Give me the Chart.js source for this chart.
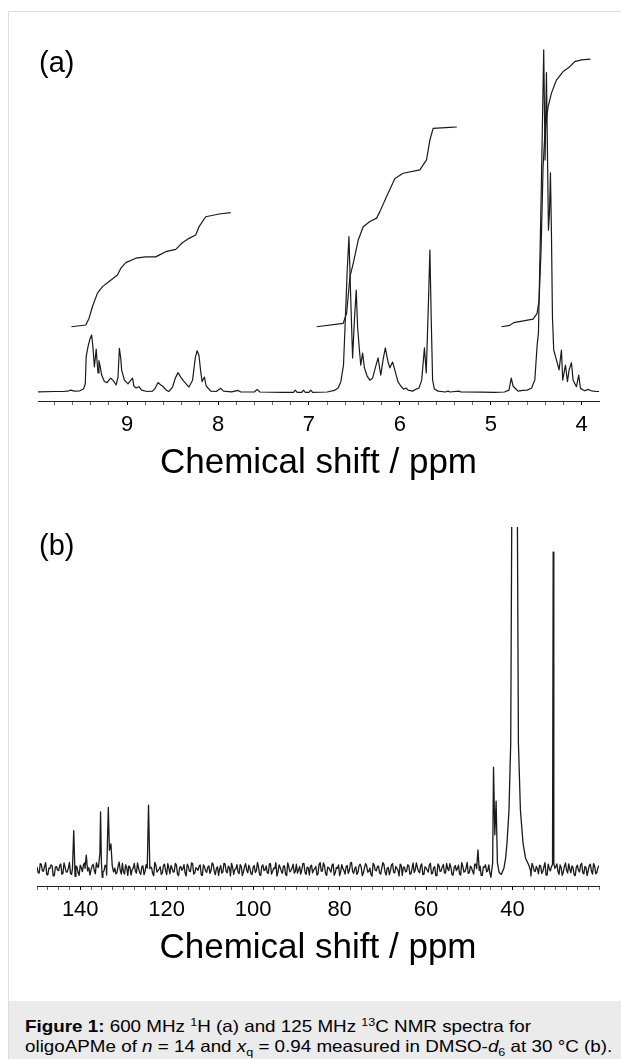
<!DOCTYPE html>
<html>
<head>
<meta charset="utf-8">
<script src="https://cdn.jsdelivr.net/npm/chart.js@4.4.1/dist/chart.umd.min.js"></script>
<style>
  html, body { margin: 0; padding: 0; background: #fff; }
  body { width: 621px; height: 1059px; position: relative; overflow: hidden; font-family: "Liberation Sans", Arial, sans-serif; }
  #frame { position: absolute; left: 8px; top: 11px; width: 700px; height: 1100px; border-left: 1px solid #dcdcdc; border-top: 1px solid #dcdcdc; }
  canvas { position: absolute; left: 0; }
  #cA { top: 0; }
  #cB { top: 490px; }
  .lbl { position: absolute; left: 39px; font-size: 29px; line-height: 29px; color: #000; }
  #caption { position: absolute; left: 9px; top: 1001px; right: 0; bottom: 0; background: #ebebeb; padding: 14.5px 0 0 16px; font-size: 16.5px; line-height: 20px; color: #000; white-space: nowrap; }
  #caption span { display: inline-block; transform: scaleX(1.14); transform-origin: 0 0; }
  sup, sub { font-size: 11px; line-height: 0; }
</style>
</head>
<body>
<div id="frame"></div>
<canvas id="cA" width="621" height="490"></canvas>
<canvas id="cB" width="621" height="500"></canvas>
<div class="lbl" style="top:47.5px">(a)</div>
<div class="lbl" style="top:530.5px">(b)</div>
<div id="caption"><span><b>Figure 1:</b> 600 MHz <sup>1</sup>H (a) and 125 MHz <sup>13</sup>C NMR spectra for<br>oligoAPMe of <i>n</i> = 14 and <i>x</i><sub>q</sub> = 0.94 measured in DMSO-<i>d</i><sub>6</sub> at 30 °C (b).</span></div>
<script>
// --- (a) 1H spectrum: [ppm, intensity] (tallest peak = 100) ---
const specH = [
  [9.98,0.2],[9.80,0.3],[9.70,0.3],[9.64,0.5],[9.62,0.7],[9.58,0.4],[9.52,0.5],[9.48,1.0],[9.46,2.5],[9.45,10.5],
  [9.43,13.4],[9.41,15.5],[9.39,16.8],[9.375,13],[9.36,7.5],[9.35,10],[9.34,12.7],[9.33,9],[9.32,5.7],[9.31,9.3],
  [9.295,7.5],[9.28,5.1],[9.25,3.2],[9.22,2.9],[9.20,3.6],[9.18,4.2],[9.15,3.4],[9.12,2.2],[9.10,4.5],[9.085,12.9],
  [9.07,10],[9.06,6.6],[9.03,3.6],[8.99,2.5],[8.965,3.4],[8.94,4.2],[8.925,1.8],[8.90,1.3],[8.87,1.7],[8.84,0.7],
  [8.78,0.3],[8.72,0.4],[8.69,1.3],[8.66,2.9],[8.63,2.2],[8.61,1.9],[8.57,0.7],[8.54,0.3],[8.50,1.6],[8.47,4.2],
  [8.44,5.8],[8.41,4.5],[8.38,3.4],[8.36,2.8],[8.32,1.6],[8.28,3.6],[8.25,10.1],[8.23,12.2],[8.21,10.9],[8.19,6],
  [8.175,3.2],[8.15,4.5],[8.13,1.9],[8.08,0.4],[8.02,0.3],[7.99,0.9],[7.97,1.2],[7.94,0.4],[7.85,0.2],[7.78,0.6],
  [7.75,0.15],[7.60,0.15],[7.57,0.9],[7.54,0.15],[7.30,0.05],[7.17,0.05],[7.15,0.7],[7.13,0.05],[7.08,0.05],[7.06,0.7],
  [7.04,0.05],[7.00,0.05],[6.98,0.7],[6.96,0.05],[6.80,0.15],[6.72,0.6],[6.68,1.3],[6.65,3.1],[6.62,8.0],[6.60,21.2],
  [6.58,35.2],[6.56,45.5],[6.545,31.4],[6.52,10.1],[6.50,21.2],[6.48,29.9],[6.465,19.1],[6.445,12.4],[6.43,8.0],[6.41,11.5],
  [6.39,7.2],[6.36,4.8],[6.33,3.6],[6.30,4.2],[6.27,7.2],[6.24,10.1],[6.21,5.1],[6.185,9.5],[6.16,13.0],[6.13,8.9],
  [6.11,7.2],[6.08,8.9],[6.05,6.0],[6.02,3.1],[5.99,1.9],[5.96,1.0],[5.93,1.3],[5.91,0.7],[5.86,0.4],[5.82,1.0],
  [5.79,1.3],[5.76,3.6],[5.73,13.0],[5.71,5.7],[5.685,27.0],[5.67,41.6],[5.655,21.2],[5.64,3.6],[5.62,1.0],[5.58,0.4],
  [5.50,0.15],[5.47,0.4],[5.45,0.15],[5.35,0.4],[5.33,0.15],[5.10,0.1],[4.96,0.05],[4.85,0.15],[4.80,0.7],[4.775,4.2],
  [4.755,1.9],[4.735,1.3],[4.70,0.4],[4.65,0.6],[4.60,0.7],[4.55,1.3],[4.53,2.8],[4.516,3.6],[4.49,13.9],[4.476,17.4],
  [4.447,56.2],[4.418,100],[4.403,67.9],[4.388,93.4],[4.366,47.4],[4.355,52.4],[4.344,64.1],[4.333,46.6],[4.322,22.1],[4.308,12.4],
  [4.278,9.5],[4.249,6.6],[4.223,12.4],[4.209,3.6],[4.179,8.0],[4.157,3.2],[4.139,6.6],[4.113,8.7],[4.095,3.6],[4.058,1.7],
  [4.033,5.1],[4.014,1.2],[3.967,0.5],[3.93,0.9],[3.893,0.5],[3.84,0.3],[3.81,0.3]
];

// integral curves (same intensity scale)
const integAromatic = [
  [9.612,19.2],[9.454,19.7],[9.418,21.7],[9.381,25.1],[9.326,29.0],[9.271,30.9],[9.198,32.4],[9.107,34.3],
  [9.069,36.3],[9.014,37.9],[8.904,39.2],[8.795,39.6],[8.685,39.6],[8.648,40.1],[8.575,41.1],[8.465,41.8],
  [8.392,43.7],[8.319,45.0],[8.245,46.0],[8.209,48.4],[8.135,51.3],[7.989,52.1],[7.860,52.5]
];
const integVinyl = [
  [6.915,19.2],[6.623,20.2],[6.586,23.1],[6.549,33.8],[6.513,37.7],[6.458,44.5],[6.403,48.4],[6.330,49.9],
  [6.256,50.9],[6.220,52.8],[6.146,57.2],[6.055,62.5],[5.964,64.0],[5.780,65.0],[5.707,67.9],[5.670,73.7],
  [5.634,77.1],[5.451,77.4],[5.374,77.5]
];
const integAliph = [
  [4.882,19.2],[4.791,19.6],[4.747,20.4],[4.535,21.4],[4.491,23.1],[4.469,27.0],[4.447,41.6],[4.425,65.9],
  [4.403,76.6],[4.370,83.4],[4.333,87.4],[4.278,91.2],[4.205,93.7],[4.150,94.7],[4.113,95.6],[4.077,96.6],
  [4.003,97.1],[3.904,97.3]
];

// --- (b) 13C spectrum: baseline noise read every 0.5 ppm (two interleaved runs) + peak groups ---
const noiseStep = 0.5;
const noiseStart1 = 150;
const noiseC1 = [
  0.8,-1.2,1.5,-0.6,2.1,-1.8,0.3,1.1,-2.0,0.9,-0.4,1.7,-1.3,0.6,-0.9,2.2,-1.6,0.2,1.0,-1.1,
  1.3,-0.7,2.0,-1.9,0.5,-0.2,1.6,-1.4,0.8,-2.2,1.2,-0.5,0.9,-1.7,1.8,-0.3,0.4,-1.0,2.3,-1.5,
  -0.8,1.4,-1.9,0.7,-0.1,1.9,-1.2,0.3,-1.6,1.1,-0.6,2.1,-1.4,0.5,-2.0,1.3,-0.4,0.8,-1.1,1.6,
  -1.7,0.4,1.2,-0.9,1.9,-1.5,0.6,-0.3,1.5,-2.1,0.9,-0.7,1.8,-1.2,0.2,1.0,-1.8,1.4,-0.5,0.7,
  -1.3,2.0,-0.6,0.3,-1.9,1.2,-0.8,1.7,-1.1,0.5,1.9,-1.6,0.1,-0.9,1.5,-2.0,0.8,-0.2,1.3,-1.4,
  0.6,-1.0,2.2,-1.7,0.9,-0.4,1.1,-1.3,1.8,-0.7,0.2,-2.1,1.4,-0.5,1.0,-1.6,2.0,-0.8,0.4,-1.2,
  1.6,-0.3,-1.5,1.9,-1.0,0.7,-1.8,1.3,-0.2,0.9,-1.4,2.1,-0.6,1.2,-1.9,0.5,-0.9,1.7,-1.1,0.3,
  -2.0,1.5,-0.4,0.8,-1.3,1.9,-0.7,0.2,-1.6,1.1,0.6,-1.2,1.8,-0.9,0.4,-2.2,1.3,-0.5,1.0,-1.5,
  2.1,-0.8,0.3,-1.7,1.4,-1.0,0.9,-0.3,1.6,-1.9,0.7,-0.6,1.2,-1.4,2.0,-0.2,0.5,-1.1,1.7,-1.6,
  0.4,-0.9,1.9,-1.3,0.8,-2.0,1.1,-0.5,1.5,-1.2,0.2,1.8,-1.7,0.6,-0.4,1.3,-1.8,0.9,-0.7,2.2,
  -1.1,0.5,-1.5,1.6,-0.3,1.0,-1.9,0.7,-0.8,1.4,-1.2,2.0,-0.6,0.3,-1.6,1.2,-0.4,1.8,-1.3,0.6,
  -0.9,1.7,-2.1,0.8,-0.2,1.3,-1.0,0.4,-1.7,1.9,-0.5,0.9,-1.4,1.1,-0.7,2.1,-1.8,0.2,1.5,-1.2,
  0.8,-0.6,1.4,-1.9,1.0,-0.3,1.7,-1.1,0.5,-2.0,1.3,-0.8,1.9,-1.4,0.6,-0.4,1.6,-1.5,0.9,-1.0,1.2
];
const noiseStart2 = 149.75;
const noiseC2 = [
  -1.0,1.8,-0.5,0.9,-1.6,0.4,1.4,-2.1,0.7,-0.2,1.2,-1.5,2.0,-0.8,0.3,-1.3,1.6,-0.6,0.8,-1.9,
  0.5,1.5,-1.1,0.2,-1.8,1.0,-0.4,2.1,-1.2,0.6,-0.9,1.3,-2.0,0.4,1.7,-0.7,-1.4,0.9,-0.3,1.9,
  -1.5,0.6,1.1,-1.8,0.3,-0.6,2.0,-1.0,0.8,-1.7,1.5,-0.2,0.7,-1.3,2.2,-0.9,0.1,-1.6,1.2,-0.5,
  1.8,-1.4,0.4,-0.8,1.3,-2.0,0.9,0.2,-1.1,1.6,-0.6,2.0,-1.5,0.5,-0.3,1.4,-1.9,0.7,-1.0,1.1,
  -0.4,1.6,-1.7,0.8,0.1,-1.2,1.9,-0.7,1.0,-2.1,0.6,-0.1,1.5,-1.4,0.9,-0.8,1.8,-1.1,0.3,-1.6,
  1.2,-0.5,0.7,-1.9,1.4,-0.2,-1.0,1.7,-1.5,0.4,2.1,-0.9,0.6,-1.3,1.1,-2.0,0.8,-0.4,1.6,-0.7,
  -1.2,0.9,-0.3,1.8,-1.6,0.5,1.0,-1.1,0.2,-1.8,1.5,-0.6,2.0,-1.4,0.7,-0.2,1.3,-1.9,0.6,1.4,
  -0.8,0.3,-1.5,1.2,-0.4,2.2,-1.3,0.8,-0.9,1.6,-2.0,0.5,1.1,-0.7,-1.6,1.9,-0.3,0.9,-1.2,0.4,
  1.5,-1.8,0.6,-0.5,1.8,-1.1,0.3,-2.1,1.2,0.7,-0.8,1.4,-1.5,0.2,-1.0,2.0,-0.6,1.1,-1.7,0.8,
  -0.2,1.3,-1.4,0.5,-2.0,1.7,-0.7,0.9,-1.1,1.9,-0.4,0.6,-1.8,1.2,0.3,-1.5,2.1,-0.9,0.4,-1.3,
  1.0,-0.6,1.6,-1.2,0.2,-1.9,0.8,1.4,-0.5,-1.0,1.7,-1.6,0.7,-0.3,1.9,-1.4,0.5,-0.8,1.2,-2.0,
  0.9,-1.1,0.3,1.8,-1.5,0.6,-0.4,1.5,-2.1,1.0,-0.7,0.2,1.3,-1.3,0.8,-1.8,1.6,-0.5,0.4,-1.0,
  1.7,-1.6,0.5,-0.9,2.0,-1.2,0.1,1.1,-1.7,0.7,-0.3,1.4,-1.1,0.9,-2.0,1.2,-0.6,1.8,-1.4,0.5
];
const peaksC = [
  [[141.8,0.2],[141.5,12.2],[141.2,-2.2]],
  [[138.9,0.3],[138.6,4.5],[138.3,-0.5]],
  [[135.8,0.6],[135.45,5],[135.3,18.1],[135.1,2],[134.9,-2.5]],
  [[133.9,-1.8],[133.5,19.5],[133.25,6],[132.9,8.0],[132.6,1.2],[132.3,-0.8]],
  [[124.5,0.4],[124.2,20.2],[123.9,0.2]],
  [[48.3,0.2],[48.0,6.1],[47.7,-0.4]],
  [[45.0,-2.5],[44.6,2],[44.4,32.2],[44.1,10.9],[43.8,21.5],[43.5,2],[43.1,-1.0],[42.6,-1.6],[42.0,0.3],
   [41.6,3.5],[41.28,8.3],[40.82,18.7],[40.42,39.8],[40.19,108],[40.0,300],[39.5,400],[39.0,300],
   [38.87,108],[38.64,39.8],[38.18,18.7],[37.58,8.3],[37.0,3.5],[36.3,1.5],[35.8,-0.5]],
  [[31.0,0.8],[30.75,1.5],[30.6,100],[30.45,1.8],[30.2,0.3]]
];

// axis ticks
const majorA = [9, 8, 7, 6, 5, 4];
const majorB = [140, 120, 100, 80, 60, 40];
const title = "Chemical shift / ppm";

Chart.defaults.font.family = '"Liberation Sans", Arial, sans-serif';
Chart.defaults.color = "#000";

const toXY = arr => arr.map(([x, y]) => ({ x, y }));

// minor ticks: 0.2 ppm (a), 2.5 ppm (b)
const ticksA = [];
for (let v = 9.8; v > 3.9; v -= 0.2) ticksA.push(Math.round(v * 10) / 10);
const ticksB = [];
for (let v = 150; v >= 20; v -= 2.5) ticksB.push(v);

// merge noise runs and peaks for (b)
const pointsB = [];
function addNoise(values, start){
  values.forEach((v, i) => {
    const p = start - i * noiseStep;
    const inPeak = peaksC.some(g => p <= g[0][0] && p >= g[g.length - 1][0]);
    if (!inPeak) pointsB.push({ x: p, y: v });
  });
}
addNoise(noiseC1, noiseStart1);
addNoise(noiseC2, noiseStart2);
peaksC.forEach(g => g.forEach(([x, y]) => pointsB.push({ x, y })));
pointsB.sort((a, b) => b.x - a.x);

function lineSet(data, w){
  return {
    data,
    borderColor: "#1a1a1a",
    borderWidth: w || 1.2,
    pointRadius: 0,
    tension: 0,
    borderJoinStyle: "round",
    fill: false
  };
}

function xAxis(min, max, ticks, majors, height, titlePad){
  return {
    type: "linear",
    reverse: true,
    min, max,
    afterBuildTicks: s => { s.ticks = ticks.map(v => ({ value: v })); },
    afterFit: s => { s.height = height; },
    grid: {
      drawOnChartArea: false,
      drawTicks: true,
      tickLength: 4,
      tickWidth: 1,
      tickColor: c => (c.tick && majors.includes(c.tick.value)) ? "#000" : "#666"
    },
    border: { display: true, color: "#222", width: 1 },
    ticks: {
      padding: 7,
      autoSkip: false,
      maxRotation: 0,
      font: { size: 22 },
      color: "#000",
      callback: v => majors.includes(v) ? String(v) : ""
    },
    title: {
      display: true,
      text: title,
      color: "#000",
      font: { size: 35 },
      padding: { top: 0, bottom: titlePad }
    }
  };
}

new Chart(document.getElementById("cA"), {
  type: "line",
  data: {
    datasets: [
      lineSet(toXY(specH)),
      lineSet(toXY(integAromatic)),
      lineSet(toXY(integVinyl)),
      lineSet(toXY(integAliph))
    ]
  },
  options: {
    responsive: false,
    animation: false,
    layout: { padding: { left: 38, right: 22, top: 40, bottom: 0 } },
    plugins: { legend: { display: false }, tooltip: { enabled: false } },
    scales: {
      x: xAxis(3.81, 9.98, ticksA, majorA, 89, 6),
      y: { display: false, min: -2.48, max: 102.9 }
    }
  }
});

new Chart(document.getElementById("cB"), {
  type: "line",
  data: { datasets: [lineSet(pointsB, 1.3)] },
  options: {
    responsive: false,
    animation: false,
    layout: { padding: { left: 37, right: 22, top: 37, bottom: 0 } },
    plugins: { legend: { display: false }, tooltip: { enabled: false } },
    scales: {
      x: xAxis(20, 150, ticksB, majorB, 104, 21),
      y: { display: false, min: -5.26, max: 107.9 }
    }
  }
});
</script>
</body>
</html>
